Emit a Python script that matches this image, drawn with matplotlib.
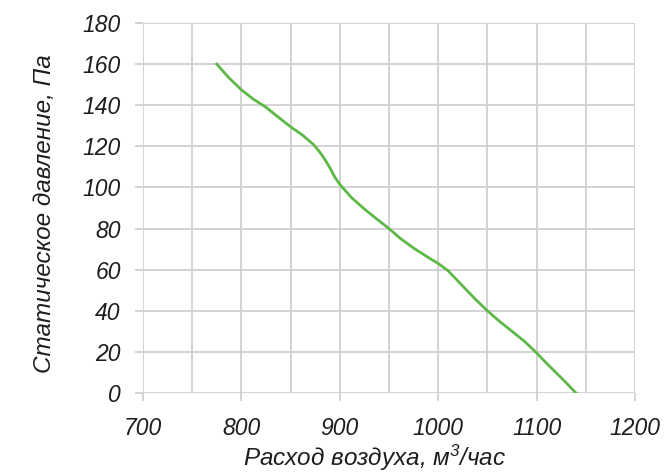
import numpy as np
import matplotlib.pyplot as plt
from matplotlib.ticker import MultipleLocator

# Fan curve
airflow = [775, 787, 800, 812, 825, 838, 850, 862, 873, 880, 885, 890, 895,
           900, 912, 925, 938, 950, 962, 975, 988, 1000, 1010, 1022, 1038,
           1050, 1062, 1075, 1088, 1100, 1110, 1120, 1130, 1140]
pressure = [160, 153.5, 147.5, 143, 139, 134, 129.5, 125.5, 121, 117, 113.5,
            109.5, 105, 101.5, 95, 89.5, 84.5, 80, 75, 70.5, 66.5, 63, 59.5,
            53.5, 45.5, 40, 35, 30, 25, 19.5, 14.5, 9.8, 5, 0]

x_ticks = [700, 800, 900, 1000, 1100, 1200]
y_ticks = [0, 20, 40, 60, 80, 100, 120, 140, 160, 180]

plt.rcParams['font.family'] = ['Liberation Sans', 'DejaVu Sans']
plt.rcParams['font.style'] = 'italic'
plt.rcParams['mathtext.fontset'] = 'custom'
plt.rcParams['mathtext.rm'] = 'Liberation Sans:italic'
plt.rcParams['mathtext.it'] = 'Liberation Sans:italic'

fig = plt.figure(figsize=(6.66, 4.73), dpi=100)
ax = fig.add_axes([143/666, 80/473, 492/666, 370/473])

grid_col = '#d0d0d0'
ax.plot(airflow, pressure, color='#5cb847', lw=2.0, zorder=3)

ax.set_xlim(700, 1200)
ax.set_ylim(0, 180)
ax.set_xticks(x_ticks)
ax.set_yticks(y_ticks)
ax.xaxis.set_minor_locator(MultipleLocator(50))
ax.grid(True, which='both', axis='x', color=grid_col, lw=1.3)
ax.grid(True, which='major', axis='y', color=grid_col, lw=1.3)
ax.set_axisbelow(True)

for s in ax.spines.values():
    s.set_visible(False)

ax.tick_params(axis='x', which='major', length=6, width=1.3, color=grid_col,
               pad=11, labelsize=16.5, labelcolor='#1e1e1e')
ax.tick_params(axis='x', which='minor', length=0)
ax.tick_params(axis='y', length=6, width=1.3, color=grid_col, pad=10,
               labelsize=16.5, labelcolor='#1e1e1e')

ax.set_xlabel('Расход воздуха, м$^{3}$/час', fontsize=17.5, color='#1e1e1e')
ax.set_ylabel('Статическое давление, Па', fontsize=17.5, color='#1e1e1e')
ax.xaxis.set_label_coords((375 - 143) / 492, -(443 - 393) / 370)
ax.yaxis.set_label_coords(-(143 - 56) / 492, 0.485)

fig.savefig('out.png', dpi=100)
